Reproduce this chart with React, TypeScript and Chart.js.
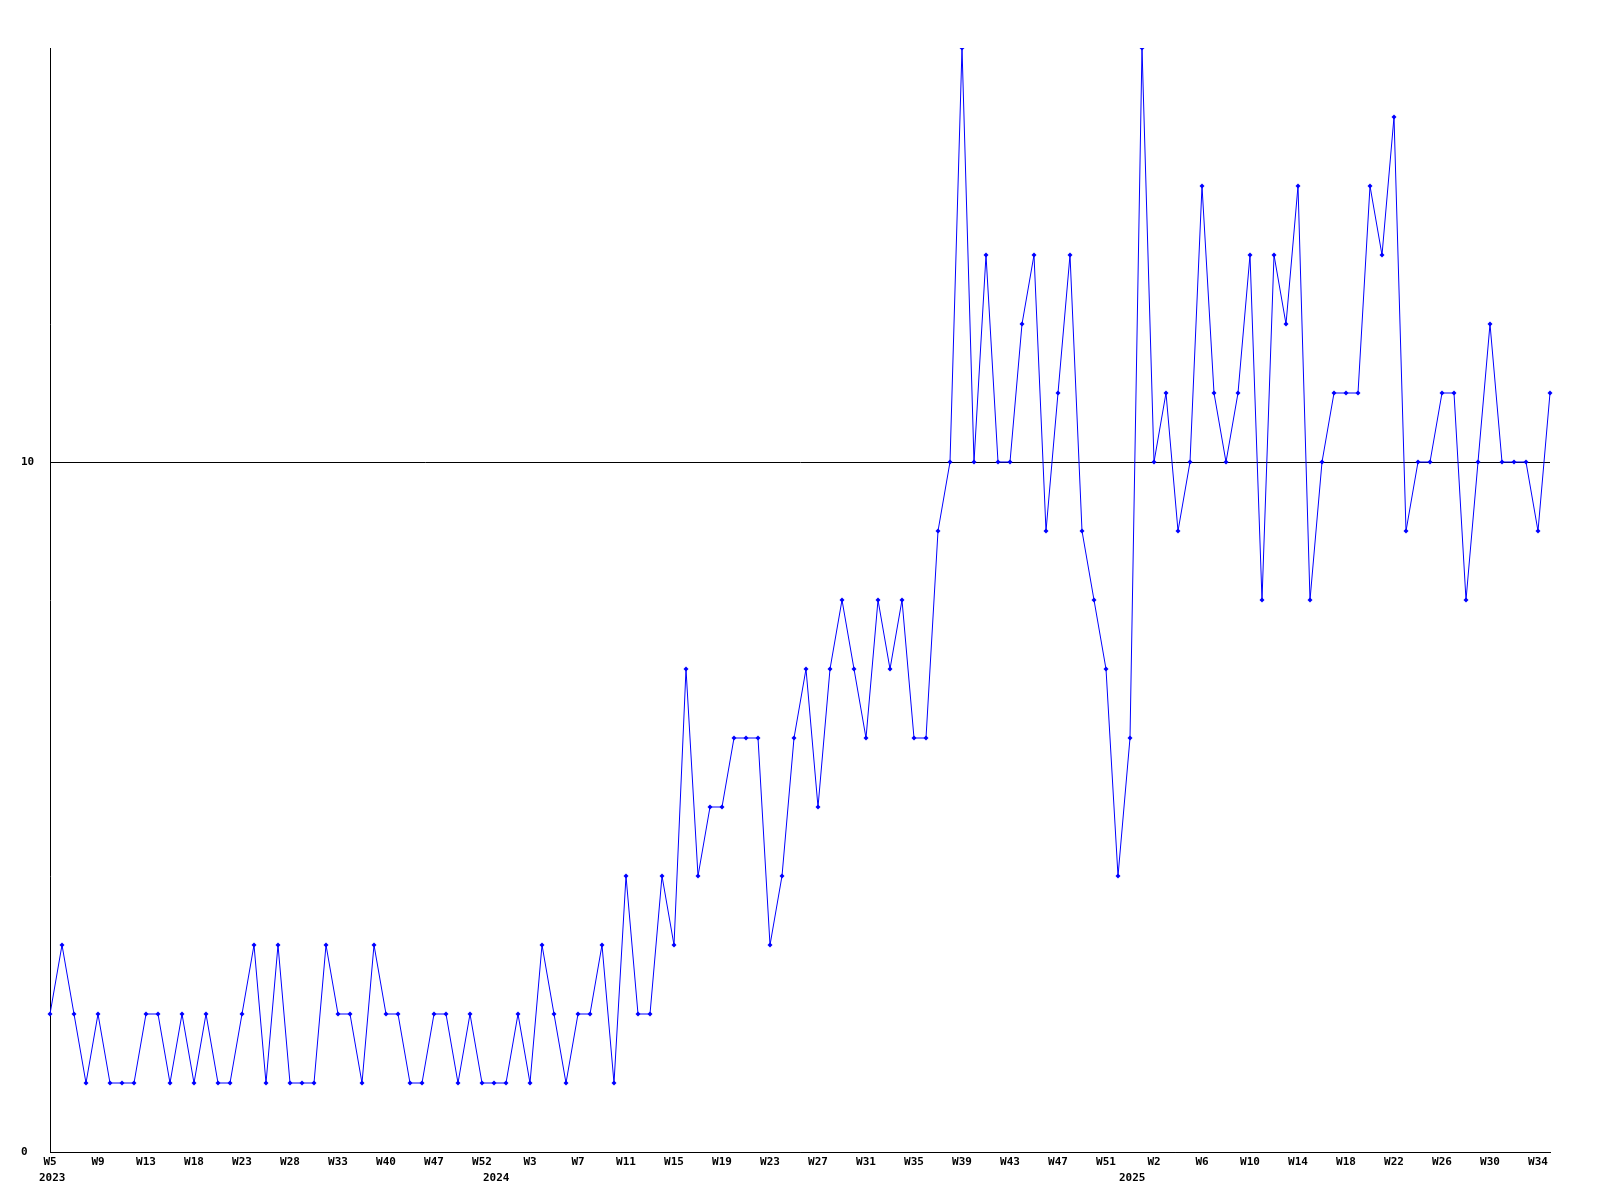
import React, { useEffect, useRef } from "react";
import { Chart, registerables } from "chart.js";

Chart.register(...registerables);

// Weekly series values (one per week point)
const values: number[] = [
  2, 3, 2, 1, 2, 1, 1, 1, 2, 2, 1, 2, 1, 2, 1, 1, 2, 3, 1, 3, 1, 1,
  1, 3, 2, 2, 1, 3, 2, 2, 1, 1, 2, 2, 1, 2, 1, 1, 1, 2, 1, 3, 2, 1,
  2, 2, 3, 1, 4, 2, 2, 4, 3, 7, 4, 5, 5, 6, 6, 6, 3, 4, 6, 7,
  5, 7, 8, 7, 6, 8, 7, 8, 6, 6, 9, 10, 16, 10, 13, 10, 10, 12, 13, 9, 11,
  13, 9, 8, 7, 4, 6, 16, 10, 11, 9, 10, 14, 11, 10, 11, 13, 8, 13, 12, 14,
  8, 10, 11, 11, 11, 14, 13, 15, 9, 10, 10, 11, 11, 8, 10, 12, 10, 10, 10, 9, 11,
];

// Week tick labels, shown every 4th point
const weekTicks: string[] = [
  "W5", "W9", "W13", "W18", "W23", "W28", "W33", "W40", "W47", "W52",
  "W3", "W7", "W11", "W15", "W19", "W23", "W27", "W31", "W35", "W39",
  "W43", "W47", "W51", "W2", "W6", "W10", "W14", "W18", "W22", "W26",
  "W30", "W34",
];
const tickEvery = 4;

// Year labels and the point index where each year starts
const yearLabels: string[] = ["2023", "2024", "2025"];
const yearStarts: number[] = [0, 37, 90];

// Y axis tick values shown
const yTicks: number[] = [0, 10];
const yMax = 16;

const FONT_FAMILY = '"DejaVu Sans Mono", monospace';

const yearPlugin = {
  id: "yearLabels",
  afterDraw(chart: any) {
    const xs = chart.scales.x;
    const ctx = chart.ctx;
    ctx.save();
    ctx.font = `bold 11px ${FONT_FAMILY}`;
    ctx.fillStyle = "#000";
    ctx.textAlign = "left";
    ctx.textBaseline = "middle";
    yearLabels.forEach((lab, i) => {
      const px = xs.getPixelForValue(yearStarts[i]);
      ctx.fillText(lab, px - 11, xs.top + 26);
    });
    ctx.restore();
  },
};

export default function App() {
  const ref = useRef<HTMLCanvasElement | null>(null);

  useEffect(() => {
    document.body.style.margin = "0";
    const canvas = ref.current;
    if (!canvas) return;
    const labels = values.map((_, i) => String(i));
    const font = { family: FONT_FAMILY, size: 11, weight: "bold" as const };
    const chart = new Chart(canvas, {
      type: "line",
      data: {
        labels,
        datasets: [
          {
            data: values,
            borderColor: "#0000ff",
            backgroundColor: "#0000ff",
            borderWidth: 1,
            tension: 0,
            pointStyle: "rectRot",
            pointRadius: 2.5,
            pointBorderWidth: 0,
            pointBackgroundColor: "#0000ff",
            fill: false,
          },
        ],
      },
      options: {
        animation: false,
        responsive: false,
        devicePixelRatio: 1,
        layout: { padding: { top: 48, right: 50, bottom: 0, left: 21 } },
        plugins: { legend: { display: false }, tooltip: { enabled: false } },
        scales: {
          x: {
            type: "category",
            offset: false,
            grid: { display: false, drawTicks: false },
            border: { display: true, color: "#000", width: 1 },
            ticks: {
              autoSkip: false,
              maxRotation: 0,
              minRotation: 0,
              padding: 4,
              color: "#000",
              font,
              callback: (_v: any, i: number) =>
                i % tickEvery === 0 ? weekTicks[i / tickEvery] : null,
            },
            afterFit: (s: any) => {
              s.height = 48;
            },
          },
          y: {
            min: 0,
            max: yMax,
            afterBuildTicks: (s: any) => {
              s.ticks = yTicks.map((v) => ({ value: v }));
            },
            afterFit: (s: any) => {
              s.width = 29;
            },
            border: { display: true, color: "#000", width: 1 },
            grid: { color: "#000", lineWidth: 1, drawTicks: false },
            ticks: {
              crossAlign: "far",
              padding: 0,
              color: "#000",
              font,
            },
          },
        },
      },
      plugins: [yearPlugin],
    });
    return () => chart.destroy();
  }, []);

  return (
    <canvas
      ref={ref}
      width={1600}
      height={1200}
      style={{ display: "block", width: 1600, height: 1200 }}
    />
  );
}
